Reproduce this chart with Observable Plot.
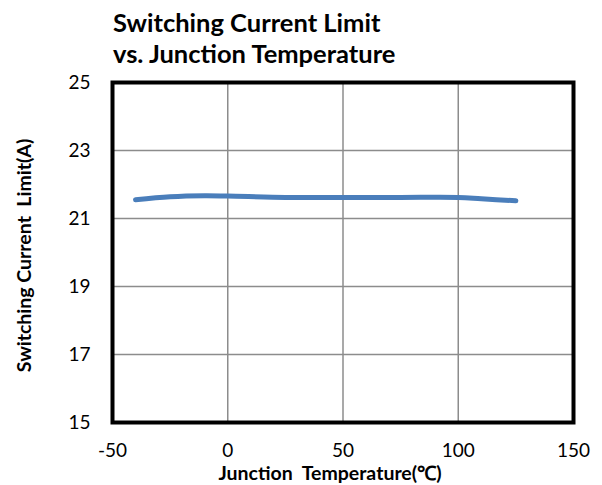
<!DOCTYPE html>
<html>
<head>
<meta charset="utf-8">
<script src="https://cdn.jsdelivr.net/npm/d3@7"></script>
<script src="https://cdn.jsdelivr.net/npm/@observablehq/plot@0.6"></script>
<style>
  body { margin: 0; background: #fff; }
  #wrap { position: relative; width: 602px; height: 485px; font-family: Lato, "Open Sans", sans-serif; }
  #title { position: absolute; left: 113px; top: 6.6px; font-weight: bold; font-size: 25.5px; line-height: 31px; color: #000; white-space: nowrap; }
  #chart { position: absolute; left: 0; top: 0; }
</style>
</head>
<body>
<div id="wrap">
  <div id="chart"></div>
  <div id="title">Switching Current Limit<br>vs. Junction Temperature</div>
</div>
<script>
const temperature = [-40, -25, -10, 0, 25, 50, 75, 100, 110, 125];
const currentLimit = [21.55, 21.64, 21.67, 21.66, 21.62, 21.62, 21.62, 21.62, 21.58, 21.52];
const xTicks = [-50, 0, 50, 100, 150];
const yTicks = [15, 17, 19, 21, 23, 25];

const data = temperature.map((t, i) => ({t, v: currentLimit[i]}));

const chart = Plot.plot({
  width: 602,
  height: 485,
  marginLeft: 112,
  marginRight: 29,
  marginTop: 82,
  marginBottom: 63,
  style: {fontFamily: "Lato, 'Open Sans', sans-serif", fontSize: "19px", color: "#000", background: "transparent"},
  x: {domain: [-50, 150], ticks: xTicks, label: null},
  y: {domain: [15, 25], ticks: yTicks, label: null},
  marks: [
    Plot.gridX(xTicks, {stroke: "#8c8c8c", strokeOpacity: 1, strokeWidth: 1.5}),
    Plot.gridY(yTicks, {stroke: "#8c8c8c", strokeOpacity: 1, strokeWidth: 1.5}),
    Plot.line(data, {x: "t", y: "v", stroke: "#4a7ebb", strokeWidth: 5, curve: "catmull-rom", strokeLinecap: "round"}),
    Plot.frame({stroke: "#000", strokeWidth: 4}),
    Plot.axisX(xTicks, {tickSize: 0, tickPadding: 21, fontSize: 19, label: null, tickFormat: d => String(d)}),
    Plot.axisY(yTicks, {tickSize: 0, tickPadding: 22, fontSize: 19, label: null, tickFormat: d => String(d)}),
    Plot.text(["Junction  Temperature(℃)"], {frameAnchor: "bottom", lineAnchor: "middle", dx: -13, dy: 51, fontWeight: "bold", fontSize: 19.5}),
    Plot.text(["Switching Current  Limit(A)"], {frameAnchor: "left", lineAnchor: "middle", dx: -88, dy: 3, rotate: -90, textAnchor: "middle", fontWeight: "bold", fontSize: 19.5})
  ]
});
document.getElementById("chart").appendChild(chart);
</script>
</body>
</html>
